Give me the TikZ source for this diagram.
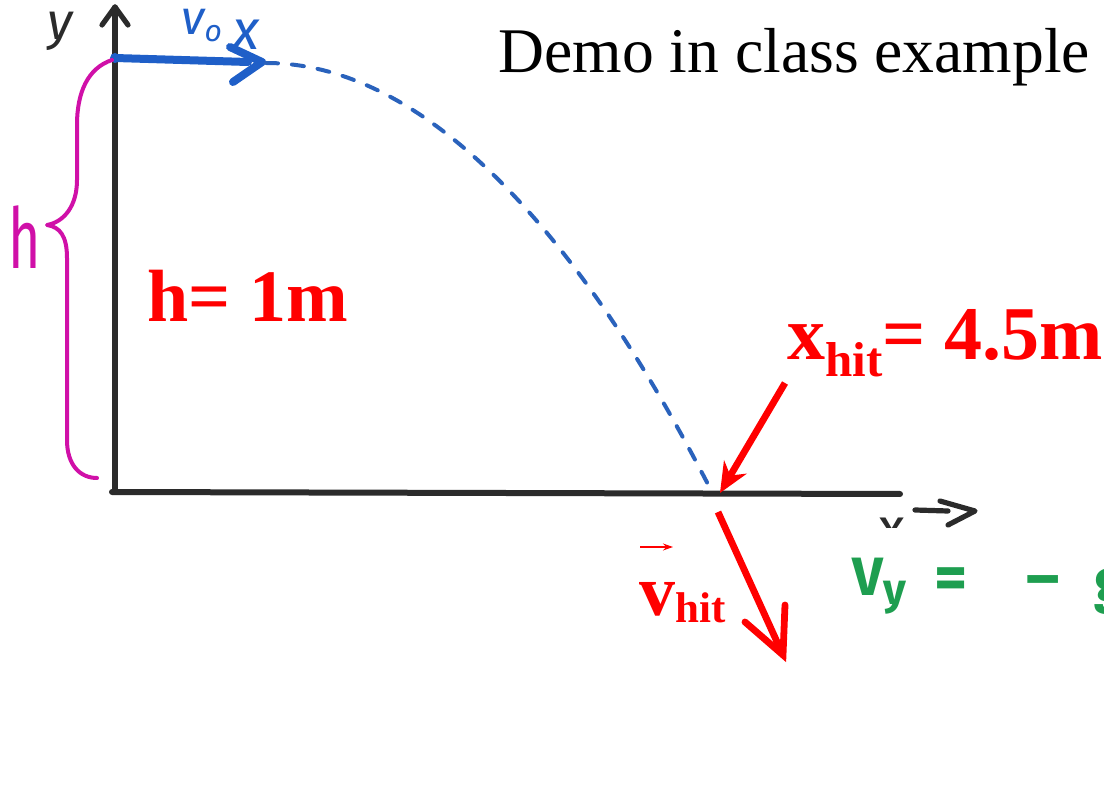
\documentclass[tikz,border=0pt]{standalone}
\usepackage{fontspec}
\setmainfont{Liberation Serif}
\newfontfamily\hand{Fira Sans}
\usetikzlibrary{arrows.meta}
\definecolor{axisgray}{HTML}{2B2B2B}
\definecolor{penblue}{HTML}{1F5FC8}
\definecolor{dashblue}{HTML}{2A62BC}
\definecolor{penmag}{HTML}{D010A8}
\definecolor{pengreen}{HTML}{1E9E50}
\definecolor{hitred}{HTML}{FF0000}
\begin{document}
\begin{tikzpicture}[x=0.5pt,y=-0.5pt,
  axisline/.style={draw=axisgray, line width=2.6pt, line cap=round, line join=round},
  blueline/.style={draw=penblue, line width=4pt, line cap=round, line join=round},
  trajline/.style={draw=dashblue, line width=2pt, dash pattern=on 6pt off 7pt, line cap=round},
  braceline/.style={draw=penmag, line width=2pt, line cap=round, line join=round},
  redline/.style={draw=hitred, line width=3.4pt},
  lbl/.style={inner sep=0pt, anchor=base west},
  handtxt/.style={inner sep=0pt, font=\hand},
]
\useasboundingbox (0,0) rectangle (1104,786);
\clip (0,0) rectangle (1104,786);

% ---- coordinates
\coordinate (origin) at (115,492);
\coordinate (ytop) at (115,7);
\coordinate (yl) at (102,25);
\coordinate (yr) at (128,25);
\coordinate (xs) at (112,492);
\coordinate (xe) at (900,494);
\coordinate (xd1) at (915,510);
\coordinate (xd2) at (948,511);
\coordinate (xc1) at (940,501);
\coordinate (xc2) at (975,511);
\coordinate (xc3) at (948,525);
\coordinate (start) at (115,58);
\coordinate (v0end) at (248,62);
\coordinate (v0a) at (230,47);
\coordinate (v0tip) at (262,62);
\coordinate (v0b) at (233,82);
\coordinate (trajs) at (266,63);
\coordinate (hit) at (712,492);
\coordinate (xarrs) at (785,383);
\coordinate (xarrt) at (720,493);
\coordinate (vs) at (718,512);
\coordinate (vt) at (783,655);
\coordinate (vb1) at (745,622);
\coordinate (vb2) at (785,605);
\coordinate (vecs) at (640,547);
\coordinate (vece) at (673,547);

% ---- axes
\draw[axisline] (origin) -- (ytop);
\draw[axisline] (yl) -- (ytop) -- (yr);
\draw[axisline, line width=3pt] (xs) -- (xe);
\draw[axisline] (xd1) -- (xd2);
\draw[axisline] (xc1) -- (xc2) -- (xc3);
\node[handtxt, anchor=base, text=axisgray, font=\hand\itshape\fontsize{26}{28}\selectfont] (ylab) at (60,40) {y};
\begin{scope}
  \clip (860,480) rectangle (910,527);
  \node[handtxt, anchor=base, text=axisgray, font=\hand\fontsize{28}{30}\selectfont] (xlab) at (892,547) {x};
\end{scope}

% ---- initial velocity
\draw[blueline] (start) -- (v0end);
\draw[blueline] (v0a) -- (v0tip) -- (v0b);
\fill[penblue] (start) circle (5);
\node[handtxt, anchor=base west, text=penblue, font=\hand\itshape\fontsize{24}{26}\selectfont] (v0x) at (181,35)
  {v\raisebox{-3.5pt}{\fontsize{15}{16}\selectfont o}\hspace{5pt}\raisebox{-7.5pt}{\fontsize{28}{30}\selectfont x}};

% ---- trajectory
\draw[trajline] (trajs) parabola (hit);

% ---- height brace
\draw[braceline] (112,60) .. controls (88,68) and (77,92) .. (77,125) -- (77,180)
  .. controls (77,206) and (64,222) .. (47,225)
  .. controls (60,227) and (67,236) .. (67,258) -- (67,440)
  .. controls (67,465) and (80,478) .. (97,478);
\node[handtxt, anchor=base west, text=penmag, font=\hand\fontsize{42}{44}\selectfont] (hlab) at (8,269) {\scalebox{0.66}[1]{h}};

% ---- texts
\node[lbl, font=\fontsize{31.8}{34}\selectfont] (demo) at (498,73) {Demo in class example};
\node[lbl, text=hitred, font=\bfseries\fontsize{37}{40}\selectfont] (hval) at (147,322) {h= 1m};
\node[lbl, text=hitred, font=\bfseries\fontsize{38}{40}\selectfont] (xhit) at (787,360)
  {x\raisebox{-8.5pt}{\fontsize{24.5}{26}\selectfont hit}= 4.5m};
\node[lbl, text=hitred, font=\bfseries\fontsize{36}{38}\selectfont] (vhit) at (639,615)
  {v\raisebox{-3.5pt}{\fontsize{21.5}{23}\selectfont hit}};
\draw[draw=hitred, line width=0.6pt, -{Stealth[length=5pt,width=3.5pt]}] (vecs) -- (vece);

% ---- red arrows
\draw[redline, -{Stealth[length=15pt,width=13pt]}] (xarrs) -- (xarrt);
\draw[redline] (vs) -- (vt);
\draw[redline, line join=miter, line cap=round] (vb1) -- (vt) -- (vb2);

% ---- green vy
\node[handtxt, anchor=base west, text=pengreen, font=\hand\bfseries\fontsize{27}{29}\selectfont] (vy) at (852,595)
  {V\raisebox{-5pt}{\fontsize{22}{24}\selectfont y}};
\node[handtxt, text=pengreen, font=\hand\bfseries\fontsize{32}{34}\selectfont] (eq) at (951,584) {=};
\node[handtxt, text=pengreen, font=\hand\bfseries\fontsize{32}{34}\selectfont] (minus) at (1043,588) {–};
\node[handtxt, anchor=west, text=pengreen, font=\hand\bfseries\fontsize{30}{32}\selectfont] (gpart) at (1094,590) {g};
\end{tikzpicture}
\end{document}
